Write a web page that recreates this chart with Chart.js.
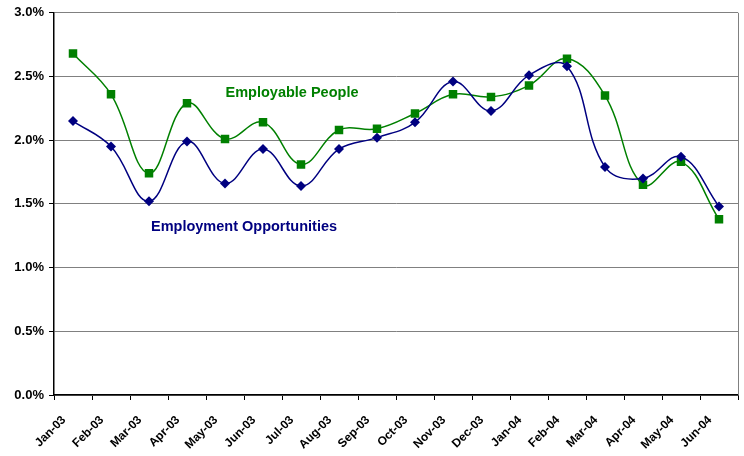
<!DOCTYPE html>
<html>
<head>
<meta charset="utf-8">
<script src="https://cdn.jsdelivr.net/npm/chart.js@4"></script>
<style>
  html, body { margin: 0; padding: 0; background: #fff; }
  #wrap { width: 744px; height: 456px; }
</style>
</head>
<body>
<div id="wrap"><canvas id="employChart" width="744" height="456"></canvas></div>
<script>
const months = ['Jan-03', 'Feb-03', 'Mar-03', 'Apr-03', 'May-03', 'Jun-03', 'Jul-03', 'Aug-03', 'Sep-03',
                'Oct-03', 'Nov-03', 'Dec-03', 'Jan-04', 'Feb-04', 'Mar-04', 'Apr-04', 'May-04', 'Jun-04'];

// Employment Opportunities (%)
const opportunities = [2.15, 1.95, 1.52, 1.99, 1.66, 1.93, 1.64, 1.93, 2.02,
                       2.14, 2.46, 2.23, 2.51, 2.58, 1.79, 1.70, 1.87, 1.48];

// Employable People (%)
const employable = [2.68, 2.36, 1.74, 2.29, 2.01, 2.14, 1.81, 2.08, 2.09,
                    2.21, 2.36, 2.34, 2.43, 2.64, 2.35, 1.65, 1.83, 1.38];

const yTicks = [0, 0.5, 1.0, 1.5, 2.0, 2.5, 3.0];

const labelFont = '"Liberation Sans", Arial, sans-serif';

// series captions and the right-hand border
const captions = {
    id: 'captions',
    afterDraw(chart) {
        const c = chart.ctx;
        const area = chart.chartArea;
        c.save();
        c.strokeStyle = '#808080';
        c.lineWidth = 1;
        c.beginPath();
        c.moveTo(area.right + 0.5, area.top);
        c.lineTo(area.right + 0.5, area.bottom);
        c.stroke();

        c.font = 'bold 14.5px ' + labelFont;
        c.textAlign = 'center';
        c.textBaseline = 'middle';
        c.fillStyle = '#008000';
        c.fillText('Employable People', 292, 93);
        c.fillStyle = '#000080';
        c.fillText('Employment Opportunities', 244, 227);
        c.restore();
    }
};

const ctx = document.getElementById('employChart').getContext('2d');

new Chart(ctx, {
    type: 'line',
    data: {
        labels: months,
        datasets: [
            {
                label: 'Employment Opportunities',
                data: opportunities,
                borderColor: '#000080',
                backgroundColor: '#000080',
                borderWidth: 1.5,
                tension: 0.4,
                pointStyle: 'rectRot',
                pointRadius: 5,
                pointBorderWidth: 0
            },
            {
                label: 'Employable People',
                data: employable,
                borderColor: '#008000',
                backgroundColor: '#008000',
                borderWidth: 1.5,
                tension: 0.4,
                pointStyle: 'rect',
                pointRadius: 6,
                pointBorderWidth: 0
            }
        ]
    },
    options: {
        responsive: false,
        animation: false,
        layout: { padding: { top: 11, right: 2, left: 0, bottom: 0 } },
        plugins: {
            legend: { display: false },
            tooltip: { enabled: false }
        },
        scales: {
            x: {
                offset: true,
                grid: {
                    offset: true,
                    drawOnChartArea: false,
                    drawTicks: true,
                    tickLength: 5,
                    color: '#000'
                },
                border: { color: '#000', width: 1.5 },
                ticks: {
                    color: '#000',
                    font: { family: labelFont, weight: 'bold', size: 12 },
                    minRotation: 45,
                    maxRotation: 45,
                    autoSkip: false,
                    padding: 13,
                    labelOffset: -9
                },
                afterFit(scale) { scale.height = 61; }
            },
            y: {
                min: 0,
                max: 3,
                afterBuildTicks(scale) { scale.ticks = yTicks.map(v => ({ value: v })); },
                grid: {
                    color: '#808080',
                    lineWidth: 1,
                    tickLength: 5,
                    tickColor: '#000'
                },
                border: { color: '#000', width: 1.5 },
                ticks: {
                    color: '#000',
                    font: { family: labelFont, weight: 'bold', size: 13 },
                    padding: 5,
                    callback: v => v.toFixed(1) + '%'
                },
                afterFit(scale) { scale.width = 54; }
            }
        }
    },
    plugins: [captions]
});
</script>
</body>
</html>
